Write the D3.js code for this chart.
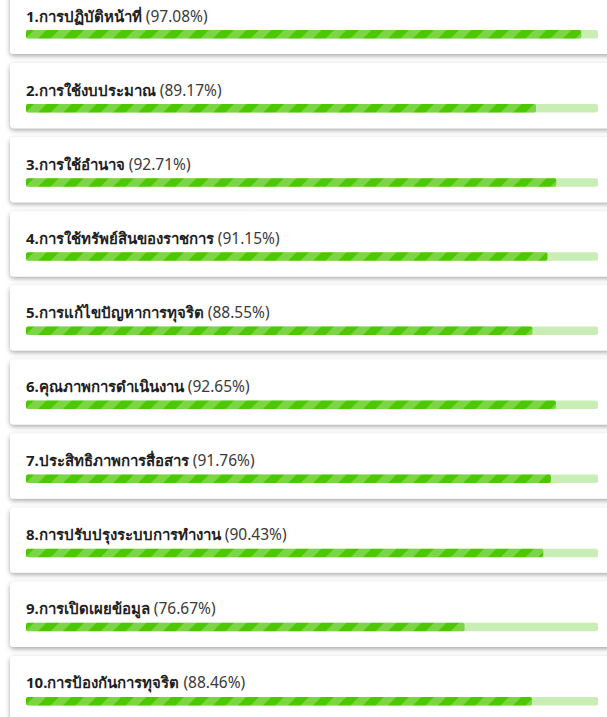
<!DOCTYPE html>
<html>
<head>
<meta charset="utf-8">
<script src="https://cdn.jsdelivr.net/npm/d3@7"></script>
<style>
  html, body { margin: 0; padding: 0; background: #fff; }
  svg { display: block; }
</style>
</head>
<body>
<svg id="chart"></svg>
<script>
const labels = [
  "1.การปฏิบัติหน้าที่",
  "2.การใช้งบประมาณ",
  "3.การใช้อำนาจ",
  "4.การใช้ทรัพย์สินของราชการ",
  "5.การแก้ไขปัญหาการทุจริต",
  "6.คุณภาพการดำเนินงาน",
  "7.ประสิทธิภาพการสื่อสาร",
  "8.การปรับปรุงระบบการทำงาน",
  "9.การเปิดเผยข้อมูล",
  "10.การป้องกันการทุจริต"
];
const scores = [97.08, 89.17, 92.71, 91.15, 88.55, 92.65, 91.76, 90.43, 76.67, 88.46];

const width = 607,
  height = 717;

const svg = d3.select("#chart").attr("width", width).attr("height", height);

const defs = svg.append("defs");

// card shadow
const shadow = defs
  .append("filter")
  .attr("id", "shadow")
  .attr("x", "-5%")
  .attr("y", "-20%")
  .attr("width", "110%")
  .attr("height", "150%");
shadow
  .append("feDropShadow")
  .attr("dx", 0)
  .attr("dy", 2)
  .attr("stdDeviation", 2.5)
  .attr("flood-color", "#000")
  .attr("flood-opacity", 0.35);

// diagonal stripes (~25px horizontal period)
const sw = 25 / Math.SQRT2;
const stripes = defs
  .append("pattern")
  .attr("id", "stripes")
  .attr("patternUnits", "userSpaceOnUse")
  .attr("width", sw)
  .attr("height", sw)
  .attr("patternTransform", "rotate(45)");
stripes
  .append("rect")
  .attr("width", sw)
  .attr("height", sw)
  .attr("fill", "#4cc800");
stripes
  .append("rect")
  .attr("width", sw / 2)
  .attr("height", sw)
  .attr("fill", "#7bd544");

// card positions
const step = 74.1,
  gap = 9;
const y = d3
  .scaleBand()
  .domain(labels)
  .range([-11, -11 + labels.length * step - gap])
  .paddingInner(gap / step)
  .paddingOuter(0);

const x = d3.scaleLinear().domain([0, 100]).range([26, 598]);

const cards = svg
  .selectAll("g.card")
  .data(labels.map((l, i) => ({ label: l, value: scores[i] })))
  .join("g")
  .attr("class", "card")
  .attr("transform", (d) => `translate(0,${y(d.label)})`);

// card background
cards
  .append("rect")
  .attr("x", 10)
  .attr("y", 0)
  .attr("width", 620)
  .attr("height", y.bandwidth())
  .attr("rx", 4)
  .attr("fill", "#fff")
  .attr("filter", "url(#shadow)");

// label
const txt = cards
  .append("text")
  .attr("x", x(0))
  .attr("y", 32.5)
  .attr("font-family", "'Noto Sans', sans-serif");
txt
  .append("tspan")
  .attr("font-weight", "bold")
  .attr("font-size", "15px")
  .attr("fill", "#1f1f1f")
  .text((d) => d.label);
txt
  .append("tspan")
  .attr("font-size", "15.5px")
  .attr("fill", "#3a3a3a")
  .text((d) => ` (${d.value.toFixed(2)}%)`);

// track
cards
  .append("rect")
  .attr("x", x(0))
  .attr("y", 41)
  .attr("width", x(100) - x(0))
  .attr("height", 8.5)
  .attr("rx", 2)
  .attr("fill", "#c8eeb5");

// value bar
cards
  .append("rect")
  .attr("x", x(0))
  .attr("y", 41)
  .attr("width", (d) => x(d.value) - x(0))
  .attr("height", 8.5)
  .attr("rx", 2)
  .attr("fill", "url(#stripes)");
</script>
</body>
</html>
